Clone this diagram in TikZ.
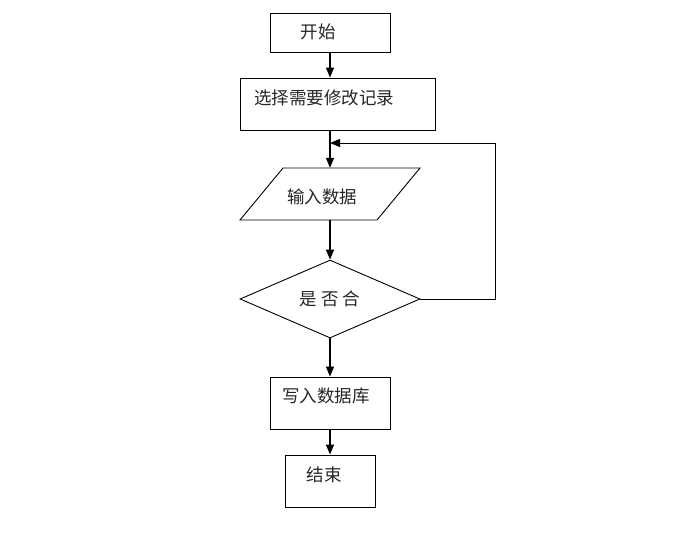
\documentclass[tikz,border=0pt]{standalone}
\usepackage{fontspec}
\newfontfamily\cjk{Noto Sans CJK SC}
\usetikzlibrary{arrows.meta, positioning, shapes.geometric}
\tikzset{
  stepbox/.style={draw, line width=0.9pt, inner sep=0pt},
  flowtxt/.style={font=\cjk\fontsize{17.5}{20}\selectfont, color=black!85, inner sep=0pt},
  flowarrow/.style={line width=1.4pt, ->},
  backarrow/.style={line width=1pt, ->}
}

\begin{document}
\begin{tikzpicture}[x=1pt, y=-1pt, >={Triangle[length=10pt, width=8pt]}]
    \useasboundingbox (0,0) rectangle (690,533);

    % Shapes
    \node[stepbox, minimum width=120pt, minimum height=39pt] (start) at (330,32.5) {};
    \node[stepbox, minimum width=195pt, minimum height=52pt] (select) at (337.5,104) {};
    \node[inner sep=0pt, minimum width=137pt, minimum height=52pt] (input) at (330,194) {};
    \draw[stepbox] (283,168) -- (420,168) -- (377,220) -- (240,220) -- cycle;
    \node[stepbox, diamond, minimum width=180pt, minimum height=78pt] (check) at (330,299) {};
    \node[stepbox, minimum width=120pt, minimum height=52pt] (write) at (330,403) {};
    \node[stepbox, minimum width=90pt, minimum height=52pt] (finish) at (330,481) {};

    % Texts
    \node[flowtxt] (tstart) at (318,32) {开始};
    \node[flowtxt] (tselect) at (324,98) {选择需要修改记录};
    \node[flowtxt] (tinput) at (322,197) {输入数据};
    \node[flowtxt] (tcheck) at (330,299) {是 否 合};
    \node[flowtxt] (twrite) at (326,396) {写入数据库};
    \node[flowtxt] (tfinish) at (324,475) {结束};

    % Connectors
    \draw[flowarrow] (start) -- (start |- select.north);
    \draw[flowarrow] (select.south -| input) -- (input);
    \draw[flowarrow] (input) -- (check);
    \draw[flowarrow] (check) -- (write);
    \draw[flowarrow] (write) -- (finish);

    % Loop back
    \coordinate (merge) at (330,143);
    \coordinate (corner) at (495,143);
    \draw[backarrow] (check.east) -| (corner) -- (merge);
\end{tikzpicture}
\end{document}
